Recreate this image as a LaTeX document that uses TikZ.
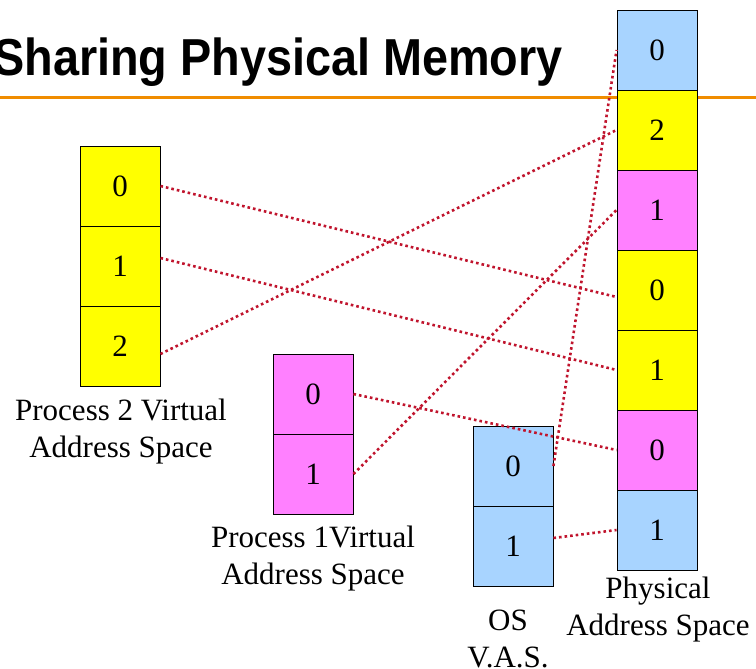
\documentclass[tikz,border=0pt]{standalone}
\usepackage{fontspec}
\setmainfont{Liberation Serif}
\newfontfamily\titlefont{Liberation Sans}
\definecolor{osblue}{HTML}{A8D4FF}
\definecolor{pyellow}{HTML}{FFFF00}
\definecolor{ppink}{HTML}{FF80FF}
\definecolor{linkred}{HTML}{C0142D}
\definecolor{rule}{HTML}{F08C00}
\begin{document}
\begin{tikzpicture}[x=1pt,y=-1pt,
  cell/.style={draw=black, line width=0.9pt, minimum width=80pt, minimum height=80pt, inner sep=0pt,
    font=\fontsize{31}{37}\selectfont},
  lbl/.style={align=center, anchor=base, inner sep=0pt, font=\fontsize{31}{37}\selectfont},
  link/.style={draw=linkred, line width=2.6pt, dash pattern=on 2.6pt off 3pt}]
\useasboundingbox (0,0) rectangle (756,669);
% title and rule
\node[anchor=base east, inner sep=0pt, font=\titlefont\bfseries\fontsize{52}{60}\selectfont] (title) at (563,76) {\scalebox{0.9}[1]{Sharing Physical Memory}};
\coordinate (ruleL) at (0,98);
\coordinate (ruleR) at (756,98);
\draw[rule, line width=3pt] (ruleL) -- (ruleR);
% physical memory
\node[cell, fill=osblue]  (ph0) at (657,50)  {0};
\node[cell, fill=pyellow] (ph1) at (657,130) {2};
\node[cell, fill=ppink]   (ph2) at (657,210) {1};
\node[cell, fill=pyellow] (ph3) at (657,290) {0};
\node[cell, fill=pyellow] (ph4) at (657,370) {1};
\node[cell, fill=ppink]   (ph5) at (657,450) {0};
\node[cell, fill=osblue]  (ph6) at (657,530) {1};
% process 2
\node[cell, fill=pyellow] (pa0) at (120,186) {0};
\node[cell, fill=pyellow] (pa1) at (120,266) {1};
\node[cell, fill=pyellow] (pa2) at (120,346) {2};
% process 1
\node[cell, fill=ppink] (pb0) at (313,394) {0};
\node[cell, fill=ppink] (pb1) at (313,474) {1};
% OS
\node[cell, fill=osblue] (os0) at (513,466) {0};
\node[cell, fill=osblue] (os1) at (513,546) {1};
% labels (anchor at baseline of last line)
\node[lbl] (lblp2) at (121,457) {Process 2 Virtual\\Address Space};
\node[lbl] (lblp1) at (313,584) {Process 1Virtual\\Address Space};
\node[lbl] (lblos) at (508,667) {OS\\V.A.S.};
\node[lbl] (lblph) at (658,635) {Physical\\Address Space};
% links
\draw[link] (pa0.east) -- ([yshift=-7pt]ph3.west);
\draw[link] ([yshift=8pt]pa1.east) -- (ph4.west);
\draw[link] ([yshift=-8pt]pa2.east) -- (ph1.west);
\draw[link] (pb0.east) -- (ph5.west);
\draw[link] (pb1.east) -- (ph2.west);
\draw[link] (os0.east) -- (ph0.west);
\draw[link] ([yshift=8pt]os1.east) -- (ph6.west);
\end{tikzpicture}
\end{document}
